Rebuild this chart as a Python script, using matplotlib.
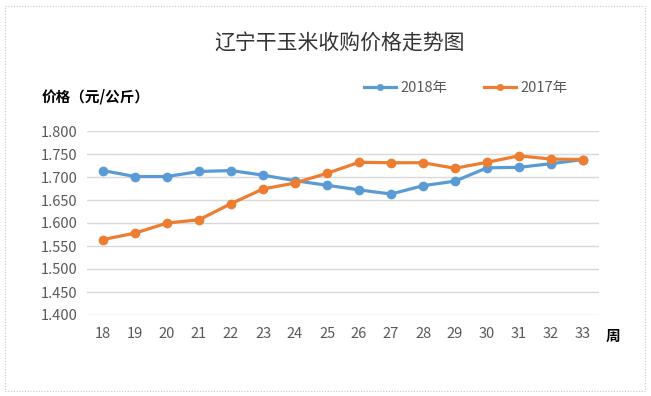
import matplotlib
matplotlib.use("Agg")
import matplotlib.pyplot as plt
from matplotlib.patches import Rectangle

plt.rcParams['font.family'] = ['Noto Sans CJK SC', 'DejaVu Sans']

weeks = ['18', '19', '20', '21', '22', '23', '24', '25', '26', '27', '28', '29', '30', '31', '32', '33']
price_2018 = [1.714, 1.701, 1.701, 1.712, 1.714, 1.704, 1.692, 1.682, 1.672, 1.663, 1.681, 1.691, 1.720, 1.721, 1.729, 1.738]
price_2017 = [1.564, 1.578, 1.600, 1.607, 1.642, 1.674, 1.687, 1.708, 1.732, 1.731, 1.731, 1.719, 1.732, 1.746, 1.739, 1.738]
yticks = [1.400, 1.450, 1.500, 1.550, 1.600, 1.650, 1.700, 1.750, 1.800]

W, H = 651, 396
fig = plt.figure(figsize=(W / 100, H / 100), dpi=100)
fig.patch.set_facecolor('white')

# dotted border
fig.add_artist(Rectangle((5 / W, 5 / H), 640 / W, 385 / H, transform=fig.transFigure,
                         fill=False, edgecolor='#c8c8c8', linestyle=(0, (1, 1.5)), linewidth=0.8))

ax = fig.add_axes([87 / W, 1 - 315 / H, 512 / W, (315 - 131) / H])
x = list(range(len(weeks)))
blue = '#5B9BD5'
orange = '#ED7D31'
ax.plot(x, price_2018, color=blue, linewidth=2.3, marker='o', markersize=6, label='2018年', zorder=3)
ax.plot(x, price_2017, color=orange, linewidth=2.3, marker='o', markersize=6, label='2017年', zorder=3)

ax.set_xlim(-0.5, len(weeks) - 0.5)
ax.set_ylim(1.4, 1.8)
ax.set_yticks(yticks)
ax.set_yticklabels([f'{v:.3f}' for v in yticks])
ax.set_xticks(x)
ax.set_xticklabels(weeks)
ax.yaxis.grid(True, color='#d9d9d9', linewidth=1.0)
ax.set_axisbelow(True)
for s in ax.spines.values():
    s.set_visible(False)
ax.tick_params(axis='both', length=0, labelsize=10.5, colors='#595959')
ax.tick_params(axis='x', pad=9)
ax.tick_params(axis='y', pad=7)

fig.text(340 / W, 1 - 43 / H, '辽宁干玉米收购价格走势图', ha='center', va='center', fontsize=15, color='#333333')
fig.text(42 / W, 1 - 97 / H, '价格（元/公斤）', ha='left', va='center', fontsize=10.5, fontweight='bold', color='black')
fig.text(613 / W, 1 - 336 / H, '周', ha='center', va='center', fontsize=10.5, fontweight='bold', color='black')

leg = fig.legend(loc='center', bbox_to_anchor=(466 / W, 1 - 88 / H), ncol=2, frameon=False,
                 fontsize=10.5, handlelength=2.2, columnspacing=2.5, handletextpad=0.3)
for t in leg.get_texts():
    t.set_color('#595959')
for h in leg.legend_handles:
    h.set_markersize(4)

fig.savefig('out.png', dpi=100)
